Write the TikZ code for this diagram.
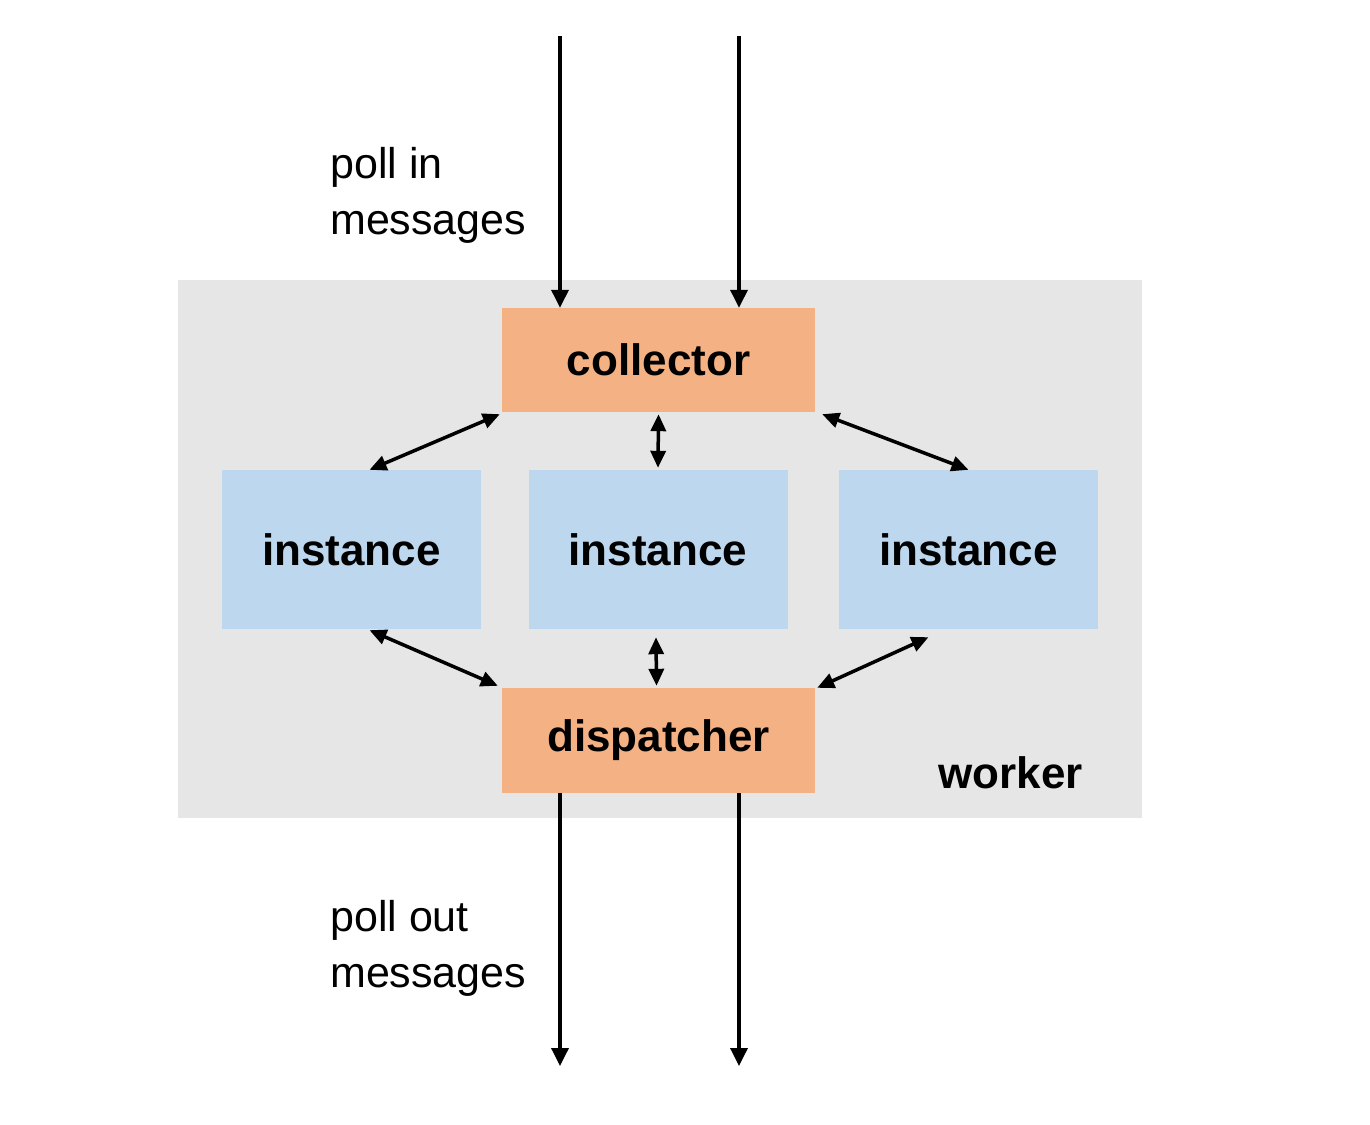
\documentclass[tikz,border=0pt]{standalone}
\usepackage{fontspec}
\setmainfont{Liberation Sans}
\usetikzlibrary{arrows.meta,calc}
\definecolor{bggray}{HTML}{E6E6E6}
\definecolor{orangebox}{HTML}{F4B183}
\definecolor{bluebox}{HTML}{BDD7EE}
\begin{document}
\begin{tikzpicture}[x=1pt,y=-1pt,
  box/.style={inner sep=0pt,font=\fontsize{44}{50}\selectfont\bfseries},
  orangeb/.style={box,fill=orangebox,minimum width=313pt,minimum height=104pt},
  blueb/.style={box,fill=bluebox,minimum width=259pt,minimum height=159pt},
  tipa/.tip={Triangle[length=18pt,width=17pt]},
  tipb/.tip={Triangle[length=17pt,width=15pt]},
  flow/.style={line width=3.5pt,-tipa},
  link/.style={line width=3.5pt,tipb-tipb},
  lbl/.style={inner sep=0pt,align=left,anchor=north west,font=\fontsize{43}{56}\selectfont}]
\useasboundingbox (0,0) rectangle (1370,1124);
\node[fill=bggray,inner sep=0pt,minimum width=964pt,minimum height=538pt] (bg) at (660,549) {};
\node[orangeb] (coll) at (658.5,360) {collector};
\node[orangeb,minimum height=105pt] (disp) at (658.5,740.5) {dispatcher};
\node[blueb] (i1) at (351.5,549.5) {instance};
\node[blueb] (i2) at (658,549.5) {instance};
\node[blueb] (i3) at (968.5,549.5) {instance};
\node[box,anchor=base east] (worker) at (1083,788) {worker};
\coordinate (in1) at (560,36);
\coordinate (in2) at (739,36);
\coordinate (out1) at (560,1066);
\coordinate (out2) at (739,1066);
\draw[flow] (in1) -- (in1 |- coll.north);
\draw[flow] (in2) -- (in2 |- coll.north);
\draw[flow] (disp.south -| out1) -- (out1);
\draw[flow] (disp.south -| out2) -- (out2);
\draw[link] ($(coll.south west)+(-2,2)$) -- ($(i1.north)+(18,0)$);
\draw[link] ($(coll.south)+(0,2)$) -- ($(i2.north)+(0,-2)$);
\draw[link] ($(coll.south east)+(7,2)$) -- ($(i3.north)+(0,0)$);
\draw[link] ($(i1.south)+(18,1)$) -- ($(disp.north west)+(-4,-2)$);
\draw[link] ($(i2.south)+(-2,8)$) -- ($(disp.north)+(-2,-2)$);
\draw[link] ($(i3.south)+(-40,8)$) -- ($(disp.north east)+(2,0)$);
\node[lbl] (pin) at (330,147) {poll in\\messages};
\node[lbl] (pout) at (330,900) {poll out\\messages};
\end{tikzpicture}
\end{document}
